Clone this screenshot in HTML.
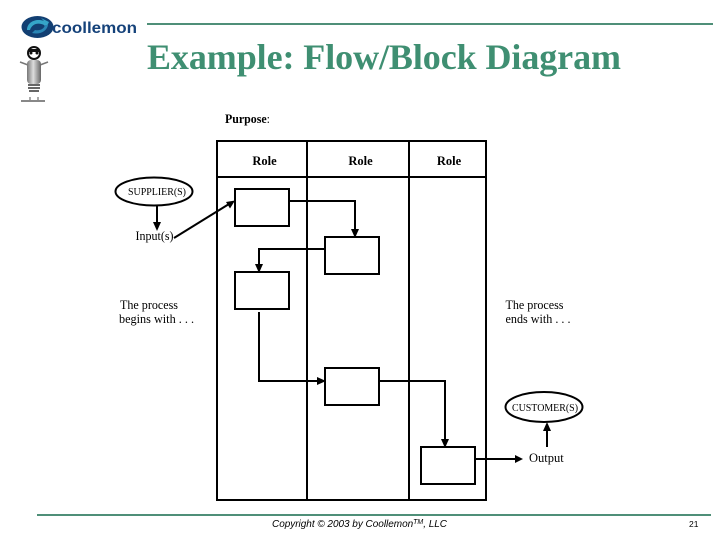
<!DOCTYPE html>
<html><head><meta charset="utf-8"><style>
html,body{margin:0;padding:0;background:#fff;width:720px;height:540px;overflow:hidden}
svg{display:block}
text{font-family:"Liberation Serif",serif;fill:#000}
</style></head><body>
<svg width="720" height="540" viewBox="0 0 720 540" xmlns="http://www.w3.org/2000/svg">
<defs>
<linearGradient id="b" x1="0" x2="1" y1="0" y2="0"><stop offset="0" stop-color="#777"/><stop offset=".45" stop-color="#ddd"/><stop offset="1" stop-color="#666"/></linearGradient>
</defs>
<!-- rules -->
<rect x="147" y="23" width="566" height="2" fill="#4f8f78"/>
<rect x="37" y="514" width="674" height="2" fill="#4f8f78"/>
<!-- logo -->
<ellipse cx="37.500" cy="27" rx="16" ry="11" fill="#123f72"/>
<path d="M27 30 C27 22 36 18 44 21 L41 18 L49 22 L46 28 L44 25 C38 22 32 24 30 30 Z" fill="#35a5c8"/>
<path d="M48 25 C47 31 40 35 32 33 L35 30 C40 31 44 29 45 25 Z" fill="#2a86b5"/>
<text x="52" y="33" font-size="15.500" font-weight="bold" style="font-family:'Liberation Sans',sans-serif;fill:#15427a" textLength="85" lengthAdjust="spacingAndGlyphs">coollemon</text>
<!-- figure -->
<circle cx="34" cy="53" r="6" fill="#fff" stroke="#111" stroke-width="2"/>
<rect x="29" y="49" width="10" height="3" fill="#111"/><circle cx="31" cy="53" r="1.500" fill="#111"/><circle cx="37" cy="53" r="1.500" fill="#111"/>
<path d="M28 65 L20 62 M40 65 L48 62" stroke="#777" stroke-width="1.500" fill="none"/>
<rect x="27" y="60" width="14" height="24" rx="4" fill="url(#b)"/>
<path d="M28 85 H40 M28 88 H40 M29 91 H39" stroke="#333" stroke-width="1.500"/>
<path d="M21 101 H45" stroke="#111" stroke-width="1"/>
<path d="M30 97 V100 M38 97 V100" stroke="#555" stroke-width="1"/>
<!-- title -->
<text x="147" y="69" font-size="36" font-weight="bold" style="fill:#3f8f72" textLength="474" lengthAdjust="spacing">Example: Flow/Block Diagram</text>
<text x="225" y="123" font-size="12.500" font-weight="bold" textLength="45" lengthAdjust="spacingAndGlyphs">Purpose<tspan font-weight="normal">:</tspan></text>
<!-- swimlanes -->
<g fill="none" stroke="#000" stroke-width="2">
<rect x="217" y="141" width="269" height="359"/>
<path d="M217 177 H486 M307 141 V500 M409 141 V500"/>
<rect x="235" y="189" width="54" height="37"/>
<rect x="325" y="237" width="54" height="37"/>
<rect x="235" y="272" width="54" height="37"/>
<rect x="325" y="368" width="54" height="37"/>
<rect x="421" y="447" width="54" height="37"/>
<ellipse cx="154" cy="191.500" rx="38.500" ry="14"/>
<ellipse cx="544" cy="407" rx="38.500" ry="15"/>
<path d="M289 201 H355 V231"/>
<path d="M325 249 H259 V266"/>
<path d="M259 312 V381 H319"/>
<path d="M379 381 H445 V441"/>
<path d="M475 459 H517"/>
<path d="M157 206 V224"/>
<path d="M547 447 V429"/>
<path d="M174 238 L229 204"/>
</g>
<g fill="#000">
<path d="M355 238 L351 229 H359 Z"/>
<path d="M259 273 L255 264 H263 Z"/>
<path d="M326 381 L317 377 V385 Z"/>
<path d="M445 448 L441 439 H449 Z"/>
<path d="M523 459 L515 455 V463 Z"/>
<path d="M157 231 L153 222 H161 Z"/>
<path d="M547 422 L543 431 H551 Z"/>
<path d="M235 200.500 L226 202 L230 208.500 Z"/>
</g>
<!-- labels -->
<g font-size="12.500" font-weight="bold" text-anchor="middle">
<text x="264.500" y="165">Role</text>
<text x="360.500" y="165">Role</text>
<text x="449" y="165">Role</text>
</g>
<text x="128" y="195" font-size="10" textLength="58" lengthAdjust="spacingAndGlyphs">SUPPLIER(S)</text>
<text x="512" y="411" font-size="10" textLength="66" lengthAdjust="spacingAndGlyphs">CUSTOMER(S)</text>
<g font-size="12.500">
<text x="135.500" y="240" textLength="38" lengthAdjust="spacingAndGlyphs">Input(s)</text>
<text x="120" y="309" textLength="58" lengthAdjust="spacingAndGlyphs">The process</text>
<text x="119" y="323" textLength="75" lengthAdjust="spacingAndGlyphs">begins with . . .</text>
<text x="505.500" y="309" textLength="58" lengthAdjust="spacingAndGlyphs">The process</text>
<text x="505.500" y="323" textLength="65" lengthAdjust="spacingAndGlyphs">ends with . . .</text>
<text x="529" y="462">Output</text>
</g>
<text x="272" y="527" font-size="10" font-style="italic" style="font-family:'Liberation Sans',sans-serif" textLength="175" lengthAdjust="spacing">Copyright © 2003 by Coollemon<tspan font-size="7" dy="-3">TM</tspan><tspan dy="3">, LLC</tspan></text>
<text x="689" y="527" font-size="8.500" style="font-family:'Liberation Sans',sans-serif">21</text>
</svg>
</body></html>
